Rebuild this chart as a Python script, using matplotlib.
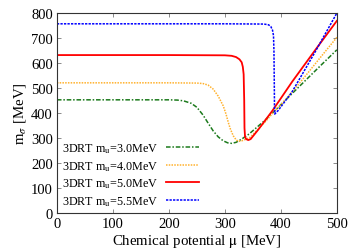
import matplotlib
matplotlib.use("Agg")
import matplotlib.pyplot as plt

plt.rcParams['font.family'] = ['Liberation Serif', 'DejaVu Serif']
plt.rcParams['mathtext.fontset'] = 'stix'

# m_u = 3.0 MeV
mu_30 = [0, 100, 200, 215, 226, 240, 250, 261, 270, 279, 288, 297, 305, 312, 320, 330, 343, 357, 372, 386, 410, 440, 470, 500]
m_30 = [453, 453, 453, 452, 449, 439, 423, 392, 360, 329, 305, 289, 281, 279, 283, 296, 316, 343, 372, 403, 456, 522, 588, 653]

# m_u = 4.0 MeV
mu_40 = [0, 100, 200, 250, 261, 270, 279, 288, 297, 302, 306, 310, 315, 320, 324, 330, 337, 345, 357, 372, 386, 410, 440, 470, 500]
m_40 = [521, 521, 521, 520, 518, 512, 496, 468, 429, 396, 363, 335, 309, 293, 287, 289, 295, 303, 330, 365, 401, 458, 538, 621, 703]

# m_u = 5.0 MeV
mu_50 = [0, 100, 200, 300, 312, 320, 326, 330, 332, 333.5, 334.5, 335, 336, 338, 341.7, 346, 360, 385, 420, 460, 500]
m_50 = [632, 632, 632, 631, 629, 624, 615, 603, 585, 555, 450, 340, 305, 296, 292, 296, 335, 410, 525, 648, 769]

# m_u = 5.5 MeV
mu_55 = [0, 100, 200, 300, 370, 378, 382, 385, 386.8, 387.6, 388.2, 388.6, 389, 395, 420, 460, 500]
m_55 = [757, 757, 757, 757, 756, 753, 746, 732, 710, 650, 520, 420, 396, 410, 485, 640, 800]

fig = plt.figure(figsize=(3.58, 2.51), dpi=100)
ax = fig.add_axes([0.159, 0.147, 0.782, 0.797])

ax.plot(mu_30, m_30, color='#1c7a1c', lw=1.1, ls=(0, (3, 1.2, 1, 1.2)), label=r'3DRT m$_\mathrm{u}$=3.0MeV')
ax.plot(mu_40, m_40, color='#ffb22e', lw=1.1, ls=(0, (1, 0.8)), label=r'3DRT m$_\mathrm{u}$=4.0MeV')
ax.plot(mu_50, m_50, color='#ff0000', lw=1.3, ls='-', label=r'3DRT m$_\mathrm{u}$=5.0MeV')
ax.plot(mu_55, m_55, color='#0000ff', lw=1.1, ls=(0, (1.5, 0.8)), label=r'3DRT m$_\mathrm{u}$=5.5MeV')

ax.set_xlim(0, 500)
ax.set_ylim(0, 800)
ax.set_xticks(range(0, 501, 100))
ax.set_yticks(range(0, 801, 100))
ax.tick_params(direction='in', top=True, right=True, labelsize=10.5, length=3, width=0.6, color='#777777', pad=3)
for s in ax.spines.values():
    s.set_linewidth(0.8)
    s.set_color('#333333')

ax.set_xlabel(r'Chemical potential $\mathrm{\mu}$ [MeV]', fontsize=10.7, labelpad=1)
ax.set_ylabel(r'm$_\sigma$ [MeV]', fontsize=10.7, labelpad=2)

ax.legend(loc='lower left', bbox_to_anchor=(0.0, 0.0), frameon=False, markerfirst=False,
          fontsize=8.7, handlelength=2.7, handletextpad=0.6, labelspacing=0.33, borderaxespad=0.05)

fig.savefig('out.png', dpi=100)
